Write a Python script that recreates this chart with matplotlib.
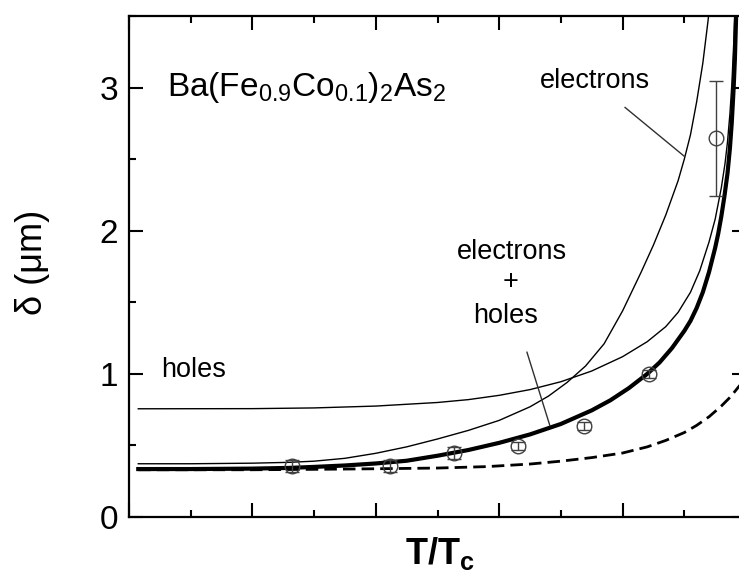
"""Penetration depth vs reduced temperature for Ba(Fe0.9Co0.1)2As2"""

import matplotlib
matplotlib.use("Agg")
import matplotlib.pyplot as plt
from matplotlib.ticker import MultipleLocator, NullFormatter

plt.rcParams["font.family"] = ["Liberation Sans", "DejaVu Sans"]
plt.rcParams["mathtext.fontset"] = "custom"
plt.rcParams["mathtext.rm"] = "Liberation Sans"
plt.rcParams["mathtext.it"] = "Liberation Sans:italic"
plt.rcParams["mathtext.bf"] = "Liberation Sans:bold"

# measured points
t_meas = [0.264, 0.423, 0.527, 0.630, 0.737, 0.843, 0.951]
d_meas = [0.356, 0.356, 0.447, 0.495, 0.635, 0.998, 2.645]
d_err = [0.04, 0.04, 0.04, 0.03, 0.03, 0.03, 0.40]

# two-band fit (electrons + holes)
t_total = [0.015, 0.10, 0.20, 0.26, 0.30, 0.35, 0.40, 0.45, 0.50, 0.55,
           0.60, 0.65, 0.70, 0.75, 0.78, 0.81, 0.84, 0.86, 0.88, 0.90,
           0.91, 0.92, 0.93, 0.94, 0.95, 0.955, 0.96, 0.965, 0.97, 0.974,
           0.977, 0.980, 0.982, 0.984]
d_total = [0.335, 0.335, 0.338, 0.343, 0.350, 0.360, 0.374, 0.393, 0.428, 0.468,
           0.518, 0.577, 0.650, 0.745, 0.815, 0.900, 1.00, 1.08, 1.18, 1.30,
           1.37, 1.46, 1.57, 1.71, 1.88, 1.98, 2.10, 2.24, 2.40, 2.58,
           2.76, 3.00, 3.20, 3.50]

# electron band alone
t_elec = [0.015, 0.10, 0.20, 0.26, 0.30, 0.35, 0.40, 0.45, 0.50, 0.55,
          0.60, 0.65, 0.68, 0.71, 0.74, 0.77, 0.80, 0.83, 0.85, 0.87,
          0.89, 0.90, 0.91, 0.92, 0.93, 0.938, 0.942]
d_elec = [0.372, 0.372, 0.376, 0.382, 0.390, 0.410, 0.445, 0.490, 0.545, 0.605,
          0.675, 0.770, 0.845, 0.940, 1.055, 1.21, 1.44, 1.71, 1.90, 2.11,
          2.35, 2.50, 2.67, 2.90, 3.17, 3.45, 3.60]

# hole band alone
t_hole = [0.015, 0.20, 0.30, 0.40, 0.50, 0.55, 0.60, 0.65, 0.70, 0.75,
          0.80, 0.84, 0.87, 0.89, 0.91, 0.925, 0.94, 0.95, 0.96, 0.966,
          0.970, 0.974, 0.977, 0.980, 0.982]
d_hole = [0.756, 0.757, 0.762, 0.775, 0.800, 0.820, 0.850, 0.890, 0.945, 1.02,
          1.12, 1.225, 1.33, 1.43, 1.57, 1.72, 1.92, 2.08, 2.30, 2.47,
          2.62, 2.82, 3.02, 3.30, 3.55]

# single-gap reference (dashed)
t_dash = [0.015, 0.20, 0.30, 0.40, 0.50, 0.58, 0.65, 0.70, 0.75, 0.80,
          0.84, 0.87, 0.90, 0.92, 0.94, 0.96, 0.975, 0.99]
d_dash = [0.330, 0.330, 0.333, 0.337, 0.342, 0.352, 0.370, 0.390, 0.415, 0.447,
          0.490, 0.535, 0.590, 0.640, 0.700, 0.775, 0.840, 0.920]

fig = plt.figure(figsize=(7.39, 5.79), dpi=100)
# right edge of the frame (T/Tc = 1) sits just past the figure border
ax = fig.add_axes([129 / 739, 62 / 579, 617 / 739, 501 / 579])

ax.plot(t_hole, d_hole, color="black", lw=1.0)
ax.plot(t_elec, d_elec, color="black", lw=1.0)
ax.plot(t_dash, d_dash, color="black", lw=2.0, dashes=(4.5, 2.2))
ax.plot(t_total, d_total, color="black", lw=3.0)

ax.errorbar(t_meas, d_meas, yerr=d_err, fmt="o", ms=10.5, mfc="none",
            mec="#404040", mew=1.0, ecolor="#404040", elinewidth=1.0,
            capsize=5, capthick=1.0, zorder=5)

# pointer lines from labels to curves
ax.plot([0.804, 0.900], [2.861, 2.52], color="#303030", lw=1.0)
ax.plot([0.645, 0.682], [1.151, 0.64], color="#303030", lw=1.0)

ax.text(0.062, 2.94, r"Ba(Fe$_{0.9}$Co$_{0.1}$)$_2$As$_2$", fontsize=24,
        ha="left", va="baseline")
ax.text(0.755, 3.0, "electrons", fontsize=19.5, ha="center", va="baseline")
ax.text(0.052, 0.977, "holes", fontsize=19.5, ha="left", va="baseline")
ax.text(0.621, 1.80, "electrons", fontsize=19.5, ha="center", va="baseline")
ax.text(0.618, 1.64, "+", fontsize=19.5, ha="center", va="center")
ax.text(0.61, 1.354, "holes", fontsize=19.5, ha="center", va="baseline")

ax.set_xlim(0, 1.0)
ax.set_ylim(0, 3.5)
ax.xaxis.set_major_locator(MultipleLocator(0.2))
ax.xaxis.set_minor_locator(MultipleLocator(0.1))
ax.yaxis.set_major_locator(MultipleLocator(1))
ax.yaxis.set_minor_locator(MultipleLocator(0.5))
ax.xaxis.set_major_formatter(NullFormatter())

ax.tick_params(which="both", direction="in", top=True, right=True, width=1.5)
ax.tick_params(which="major", length=10)
ax.tick_params(which="minor", length=5)
ax.tick_params(axis="y", labelsize=24, pad=8)
for sp in ax.spines.values():
    sp.set_linewidth(1.6)

fig.text(32 / 739, 1 - 262 / 579, r"δ (μm)", rotation=90, fontsize=26,
         ha="center", va="center")
fig.text(440 / 739, 1 - 553 / 579, r"$\mathbf{T/T_c}$", fontsize=26,
         ha="center", va="center")

fig.savefig("out.png", dpi=100)
